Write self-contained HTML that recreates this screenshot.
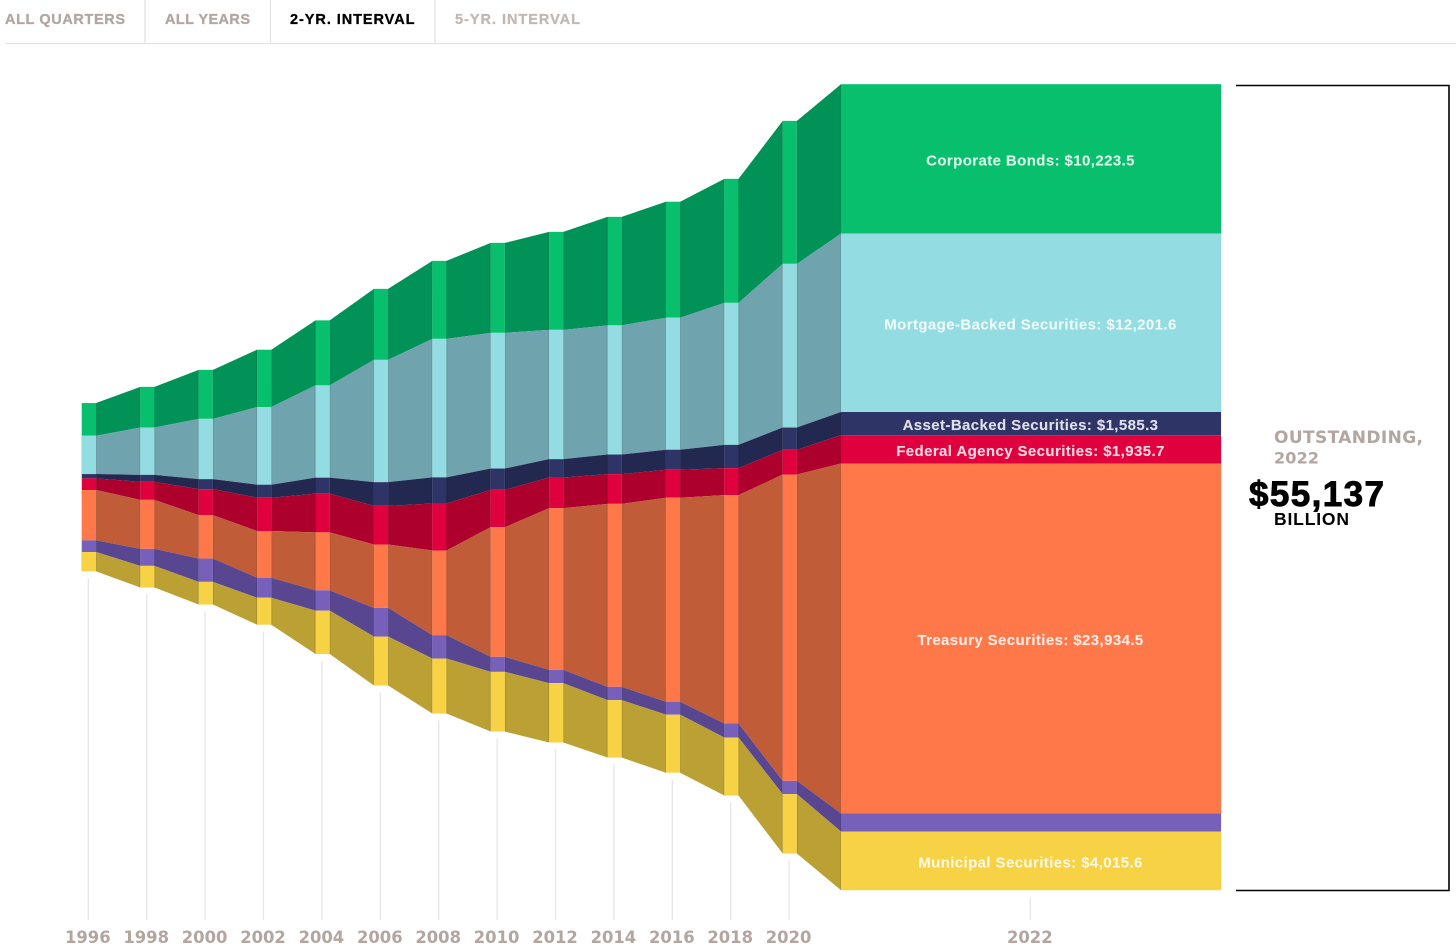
<!DOCTYPE html>
<html lang="en">
<head>
<meta charset="utf-8">
<title>US Bond Market Outstanding</title>
<style>
html,body{margin:0;padding:0;background:#fff;width:1456px;height:952px;overflow:hidden}
svg{display:block}
.tab{font:bold 14.5px "Liberation Sans",sans-serif;fill:#b3a5a0;stroke:#b3a5a0;stroke-width:.3}
.year{font:bold 16.4px "DejaVu Sans",sans-serif;fill:#b3a5a0;text-anchor:middle}
.seg-label{font:bold 15px "Liberation Sans",sans-serif;letter-spacing:.4px;fill:#fff;fill-opacity:.85;stroke:#fff;stroke-opacity:.3;stroke-width:.25;text-anchor:middle}
</style>
</head>
<body>
<svg id="chart" xmlns="http://www.w3.org/2000/svg" width="1456" height="952" viewBox="0 0 1456 952">
  <g>
    <line x1="5" x2="1456" y1="43.5" y2="43.5" stroke="#e3e3e3" stroke-width="1.3"/>
    <line x1="145" x2="145" y1="0" y2="43" stroke="#e3e3e3" stroke-width="1.3"/>
    <line x1="270.5" x2="270.5" y1="0" y2="43" stroke="#e3e3e3" stroke-width="1.3"/>
    <line x1="435" x2="435" y1="0" y2="43" stroke="#e3e3e3" stroke-width="1.3"/>
    <text class="tab" x="5" y="24" textLength="120">ALL QUARTERS</text>
    <text class="tab" x="165" y="24" textLength="85">ALL YEARS</text>
    <text class="tab" x="290" y="24" textLength="124.5" style="fill:#000;stroke:#000">2-YR. INTERVAL</text>
    <text class="tab" x="455" y="24" textLength="125" style="fill:#c2b7b3;stroke:#c2b7b3">5-YR. INTERVAL</text>
  </g>
  <g id="ticks"></g>
  <g id="bands"></g>
  <g id="bars"></g>
  <g id="edges"></g>
  <g id="labels"></g>
  <g id="yearLabels"></g>
  <g>
    <path d="M1236 85.5H1449V890.5H1236" fill="none" stroke="#000" stroke-width="1.6"/>
    <text x="1274" y="443" textLength="149" style="font:bold 17px 'DejaVu Sans',sans-serif;fill:#b3a5a0">OUTSTANDING,</text>
    <text x="1274" y="463.5" textLength="45" style="font:bold 16px 'DejaVu Sans',sans-serif;fill:#b3a5a0">2022</text>
    <text id="totalValue" x="1249" y="506" textLength="135" stroke="#000" stroke-width=".9" style="font:bold 35px 'Liberation Sans',sans-serif;fill:#000"></text>
    <text x="1274" y="525" textLength="75" style="font:bold 17.5px 'Liberation Sans',sans-serif;fill:#000">BILLION</text>
  </g>
</svg>
<script>
const years = [1996,1998,2000,2002,2004,2006,2008,2010,2012,2014,2016,2018,2020,2022];
const corporate = [2237,2784,3352,3920,4447,4857,5336,6157,6704,7422,7935,8483,9782,10223.5];
const mortgage  = [2620,3236,4125,5315,6314,8366,9475,9283,8845,8838,9030,9714,11198,12201.6];
const assetBacked = [294,479,684,889,1095,1621,1792,1457,1259,1341,1368,1594,1525,1585.3];
const federal   = [800,1231,1779,2278,2647,2647,3215,2552,2093,2032,1915,1847,1690,1935.7];
const treasury  = [3441,3352,2969,3195,3968,4330,5787,8873,11062,12519,13955,15624,20954,23934.5];
const moneyMarket = [800,1163,1594,1368,1389,1963,1601,1026,910,910,889,958,910,1240.8];
const municipal = [1320,1484,1553,1847,2969,3352,3762,4084,4063,3927,3968,3968,4063,4015.6];

const seriesNames = ['Corporate Bonds','Mortgage-Backed Securities','Asset-Backed Securities','Federal Agency Securities','Treasury Securities','Money Markets','Municipal Securities'];
const seriesValues = [corporate,mortgage,assetBacked,federal,treasury,moneyMarket,municipal];
const barColors = ['#08bf6d','#92dce2','#2e3466','#e0003d','#ff7849','#7760b9','#f6d244'];
const bandColors = ['#019258','#6fa4ae','#222850','#ad002d','#c05d38','#584790','#bba033'];

const NS = 'http://www.w3.org/2000/svg';
const last = years.length - 1;
const totals = years.map((_, i) => seriesValues.reduce((sum, s) => sum + s[i], 0));
const pxPerValue = 806 / Math.max(...totals);
const centerY = 487.2;
const barHalf = 7.1;

function xCenter(i) { return i === last ? 1031 : 89 + 58.4 * i; }
function barLeft(i) { return i === last ? 841 : xCenter(i) - barHalf; }
function barRight(i) { return i === last ? 1221 : xCenter(i) + barHalf; }
function yAt(i, stackValue) { return centerY + (stackValue - totals[i] / 2) * pxPerValue; }
function stackBefore(s, i) {
  let sum = 0;
  for (let k = 0; k < s; k++) sum += seriesValues[k][i];
  return sum;
}
function slug(name) { return name.toLowerCase().replace(/[^a-z]+/g, '-'); }
function make(tag, parentId) {
  const el = document.createElementNS(NS, tag);
  document.getElementById(parentId).appendChild(el);
  return el;
}

years.forEach((year, i) => {
  const bottom = yAt(i, totals[i]);
  const tick = make('line', 'ticks');
  
  
  tick.setAttribute('x1', xCenter(i) - 0.7);
  tick.setAttribute('x2', xCenter(i) - 0.7);
  tick.setAttribute('y1', bottom + 7);
  tick.setAttribute('y2', 920);
  tick.setAttribute('stroke', '#e6e6e6');
  tick.setAttribute('stroke-width', '1.3');

  const label = make('text', 'yearLabels');
  
  
  label.setAttribute('class', 'year');
  label.setAttribute('x', xCenter(i) - 1.2);
  label.setAttribute('y', 943);
  label.textContent = year;

  const edge = make('path', 'edges');
  
  
  edge.setAttribute('d', 'M' + (barLeft(i) - 0.4) + ' ' + yAt(i, 0) + 'V' + bottom + 'M' + (barRight(i) + 0.4) + ' ' + yAt(i, 0) + 'V' + bottom);
  edge.setAttribute('stroke', '#000');
  edge.setAttribute('stroke-opacity', i === last ? '0.06' : '0.1');
  edge.setAttribute('stroke-width', '1');
});

seriesNames.forEach((name, s) => {
  for (let i = 0; i < last; i++) {
    const x1 = barRight(i), x2 = barLeft(i + 1);
    const t1 = yAt(i, stackBefore(s, i)), b1 = t1 + seriesValues[s][i] * pxPerValue;
    const t2 = yAt(i + 1, stackBefore(s, i + 1)), b2 = t2 + seriesValues[s][i + 1] * pxPerValue;
    const band = make('polygon', 'bands');
    
    
    band.setAttribute('points', [x1, t1, x2, t2, x2, b2, x1, b1].join(' '));
    band.setAttribute('fill', bandColors[s]);
  }
  years.forEach((year, i) => {
    const top = yAt(i, stackBefore(s, i));
    const bar = make('rect', 'bars');
    
    
    bar.setAttribute('x', barLeft(i));
    bar.setAttribute('y', top);
    bar.setAttribute('width', barRight(i) - barLeft(i));
    bar.setAttribute('height', seriesValues[s][i] * pxPerValue);
    bar.setAttribute('fill', barColors[s]);
  });
  if (seriesValues[s][last] * pxPerValue > 20 && name !== 'Money Markets') {
    const top = yAt(last, stackBefore(s, last));
    const mid = top + seriesValues[s][last] * pxPerValue / 2;
    const text = make('text', 'labels');
    
    
    text.setAttribute('class', 'seg-label');
    text.setAttribute('x', 1030.5);
    text.setAttribute('y', mid + 6.6);
    text.textContent = name + ': $' + seriesValues[s][last].toLocaleString('en-US', {minimumFractionDigits: 1, maximumFractionDigits: 1});
  }
});

document.getElementById('totalValue').textContent = '$' + Math.round(totals[last]).toLocaleString('en-US');
</script>
</body>
</html>
